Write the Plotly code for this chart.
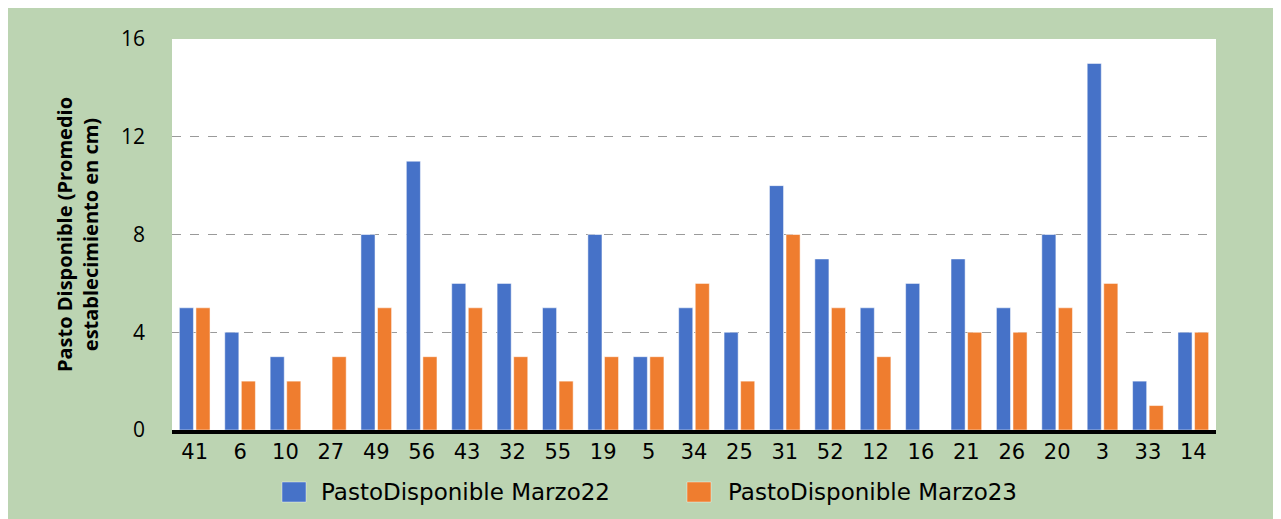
import plotly.graph_objects as go

categories = ["41", "6", "10", "27", "49", "56", "43", "32", "55", "19", "5", "34",
              "25", "31", "52", "12", "16", "21", "26", "20", "3", "33", "14"]
marzo22 = [5, 4, 3, 0, 8, 11, 6, 6, 5, 8, 3, 5, 4, 10, 7, 5, 6, 7, 5, 8, 15, 2, 4]
marzo23 = [5, 2, 2, 3, 5, 3, 5, 3, 2, 3, 3, 6, 2, 8, 5, 3, 0, 4, 4, 5, 6, 1, 4]
series_names = ["PastoDisponible Marzo22", "PastoDisponible Marzo23"]
y_ticks = [0, 4, 8, 12, 16]

GREEN = "#bcd4b2"
BLUE = "#4672c8"
ORANGE = "#ef7d2f"
OX, OY = 8, 8          # page offset (body margin)
W, H = 1271, 511
L, T = 172 - OX, 39 - OY
R = W - (1216 - OX)
B = H - (430 - OY)
pw, ph = W - L - R, H - T - B

def px_x(p):  # page px -> paper
    return (p - OX - L) / pw

def px_y(p):
    return (H - B - (p - OY)) / ph

fig = go.Figure()
fig.add_trace(go.Bar(x=categories, y=marzo22, name=series_names[0],
                     marker=dict(color=BLUE, line=dict(color="rgba(255,255,255,0.5)", width=1))))
fig.add_trace(go.Bar(x=categories, y=marzo23, name=series_names[1],
                     marker=dict(color=ORANGE, line=dict(color="rgba(255,255,255,0.5)", width=1))))

shapes = []
annotations = []
legend_pos = [(282, 319), (687, 726)]
for (sx, tx), name, col in zip(legend_pos, series_names, [BLUE, ORANGE]):
    shapes.append(dict(type="rect", xref="paper", yref="paper", x0=px_x(sx), x1=px_x(sx + 24),
                       y0=px_y(502), y1=px_y(482), fillcolor=col,
                       line=dict(color="rgba(255,255,255,0.4)", width=1)))
    annotations.append(dict(xref="paper", yref="paper", x=px_x(tx), y=px_y(492), xanchor="left",
                            yanchor="middle", text=name, showarrow=False,
                            font=dict(family="DejaVu Sans, sans-serif", size=23, color="black")))

fig.update_layout(
    width=W, height=H,
    margin=dict(l=L, r=R, t=T, b=B, autoexpand=False),
    paper_bgcolor=GREEN, plot_bgcolor="white",
    barmode="group", bargap=0.27, bargroupgap=0.15,
    font=dict(family="DejaVu Sans, sans-serif", size=20, color="black"),
    showlegend=False,
    shapes=shapes, annotations=annotations,
    xaxis=dict(showline=True, linecolor="black", linewidth=4, ticks="", showgrid=False,
               tickfont=dict(family="DejaVu Sans, sans-serif", size=21), ticklabelstandoff=0,
               fixedrange=True),
    yaxis=dict(range=[0, 16], tickvals=y_ticks, showgrid=True, gridcolor="#9a9a9a",
               griddash="dash", gridwidth=1, zeroline=False, showline=False, ticks="",
               tickfont=dict(family="Open Sans, sans-serif", size=21), ticklabelstandoff=26,
               title=dict(text="Pasto Disponible (Promedio<br>establecimiento en cm)",
                          font=dict(family="Open Sans, sans-serif", size=20, color="black",
                                    weight="bold"), standoff=16)),
)

fig.write_html("out.html")
